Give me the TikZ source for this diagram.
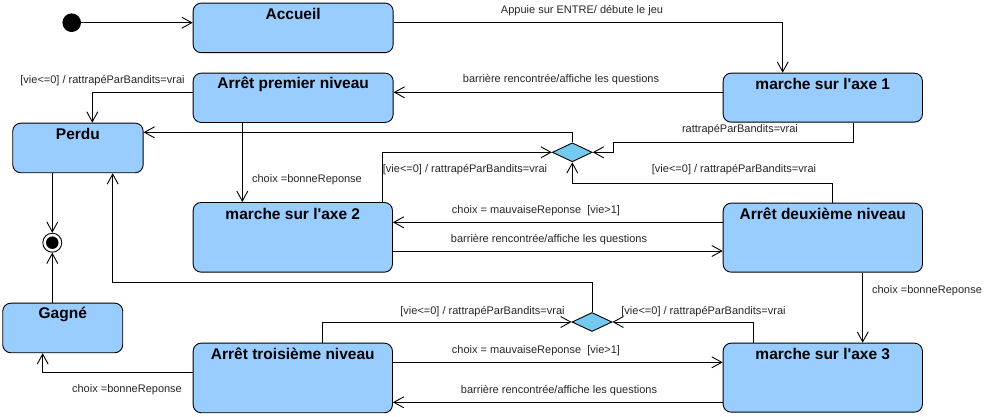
\documentclass[tikz,border=0pt]{standalone}
\usepackage{fontspec}
\setmainfont{Liberation Sans}
\newfontfamily\lsans{Liberation Sans}
\usetikzlibrary{arrows.meta,shapes.geometric}
\definecolor{statefill}{HTML}{99CCFF}
\definecolor{decfill}{HTML}{73C9F0}
\begin{document}
\begin{tikzpicture}[x=1pt,y=-1pt,
  statebox/.style={draw=black, line width=0.9pt, fill=statefill, rounded corners=8pt, anchor=north west, inner sep=0pt},
  ttl/.style={font=\lsans\fontsize{15.5}{18}\selectfont\bfseries, inner sep=0pt},
  lbl/.style={font=\lsans\fontsize{11}{13}\selectfont, inner sep=0pt, text=black!85},
  dec/.style={diamond, draw=black, line width=0.9pt, fill=decfill, minimum width=40pt, minimum height=19pt, inner sep=0pt},
  conn/.style={draw=black, line width=0.9pt},
  arr/.style={conn, -{Straight Barb[length=10pt,width=11pt]}},
]
\useasboundingbox (0,0) rectangle (996,416);

% states
\node[statebox, minimum width=200pt, minimum height=49.5pt] (acc) at (192.7,2.7) {};
\node[ttl] (acct) at ([yshift=-11.5pt]acc.north) {Accueil};
\node[statebox, minimum width=199.3pt, minimum height=49pt] (m1) at (722.7,72.7) {};
\node[ttl] (m1t) at ([yshift=-11pt]m1.north) {marche sur l\textquotesingle axe 1};
\node[statebox, minimum width=200pt, minimum height=49.3pt] (ap1) at (192.7,72.7) {};
\node[ttl] (ap1t) at ([yshift=-11.5pt]ap1.north) {Arrêt premier niveau};
\node[statebox, minimum width=130.4pt, minimum height=49.6pt] (perdu) at (12.3,122.7) {};
\node[ttl] (perdut) at ([yshift=-11.5pt]perdu.north) {Perdu};
\node[statebox, minimum width=120pt, minimum height=49.6pt] (gagne) at (2.3,302.7) {};
\node[ttl] (gagnet) at ([yshift=-11.5pt]gagne.north) {Gagné};
\node[statebox, minimum width=199.3pt, minimum height=69.7pt] (m2) at (192.7,202) {};
\node[ttl] (m2t) at ([yshift=-11.5pt]m2.north) {marche sur l\textquotesingle axe 2};
\node[statebox, minimum width=199.3pt, minimum height=69pt] (ad2) at (722.7,202.7) {};
\node[ttl] (ad2t) at ([yshift=-11.5pt]ad2.north) {Arrêt deuxième niveau};
\node[statebox, minimum width=199.3pt, minimum height=69.6pt] (at3) at (192.7,342.7) {};
\node[ttl] (at3t) at ([yshift=-11.5pt]at3.north) {Arrêt troisième niveau};
\node[statebox, minimum width=199.3pt, minimum height=69pt] (m3) at (722.7,342.7) {};
\node[ttl] (m3t) at ([yshift=-11.5pt]m3.north) {marche sur l\textquotesingle axe 3};

% pseudo states
\node[circle, fill=black, minimum size=18.6pt, inner sep=0pt] (init) at (71.7,22.7) {};
\node[circle, draw=black, line width=0.9pt, fill=white, minimum size=19pt, inner sep=0pt] (fin) at (52.3,242.7) {};
\node[circle, fill=black, minimum size=12.5pt, inner sep=0pt] (fincore) at (fin) {};

% decisions
\node[dec] (d1) at (572.3,152.3) {};
\node[dec] (d2) at (592,322) {};

% connectors
\draw[arr] (init.east) -- (init -| acc.west);
\draw[arr] (acc.east |- init) -| (782.7,0 |- m1.north);
\node[lbl] (l2) at (582,11) {Appuie sur ENTRE/ débute le jeu};

\draw[arr] (m1.west |- 0,92.3) -- (ap1.east |- 0,92.3);
\node[lbl] (l3) at (561,80) {barrière rencontrée/affiche les questions};

\draw[arr] (ap1.west |- 0,92.3) -| (92.3,0 |- perdu.north);
\node[lbl] (l4) at (102.5,81) {[vie<=0] / rattrapéParBandits=vrai};

\draw[arr] (242.3,0 |- ap1.south) -- (242.3,0 |- m2.north);
\node[lbl] (l5) at (307,180) {choix =bonneReponse};

\draw[arr] (853,0 |- m1.south) |- (613,142.3) |- (d1.east);
\node[lbl] (l6) at (740,130) {rattrapéParBandits=vrai};

\draw[arr] (382.7,0 |- m2.north) |- (d1.west);
\node[lbl] (l7) at (465,170) {[vie<=0] / rattrapéParBandits=vrai};

\draw[arr] (832.3,0 |- ad2.north) |- (d1.south |- 0,183) -- (d1.south);
\node[lbl] (l8) at (734,170) {[vie<=0] / rattrapéParBandits=vrai};

\draw[arr] (d1.north) |- (perdu.east |- 0,132.3);

\draw[arr] (ad2.west |- 0,222.3) -- (m2.east |- 0,222.3);
\node[lbl] (l10) at (536,210.7) {choix = mauvaiseReponse\ \ [vie>1]};

\draw[arr] (m2.east |- 0,251) -- (ad2.west |- 0,251);
\node[lbl] (l11) at (549,239.3) {barrière rencontrée/affiche les questions};

\draw[arr] (862.7,0 |- ad2.south) -- (862.7,0 |- m3.north);
\node[lbl] (l12) at (927,290.7) {choix =bonneReponse};

\draw[arr] (322.3,0 |- at3.north) |- (d2.west);
\node[lbl] (l13) at (482.5,312) {[vie<=0] / rattrapéParBandits=vrai};

\draw[arr] (753.3,0 |- m3.north) |- (d2.east);
\node[lbl] (l14) at (703.5,312) {[vie<=0] / rattrapéParBandits=vrai};

\draw[arr] (d2.north) |- (112.7,282.3) -- (112.7,0 |- perdu.south);

\draw[arr] (at3.east |- 0,362.3) -- (m3.west |- 0,362.3);
\node[lbl] (l16) at (536,351) {choix = mauvaiseReponse\ \ [vie>1]};

\draw[arr] (m3.west |- 0,402.3) -- (at3.east |- 0,402.3);
\node[lbl] (l17) at (559,390.5) {barrière rencontrée/affiche les questions};

\draw[arr] (at3.west |- 0,372.3) -| (42.7,0 |- gagne.south);
\node[lbl] (l18) at (127,390) {choix =bonneReponse};

\draw[arr] (52.3,0 |- perdu.south) -- (fin.north);
\draw[arr] (52.3,0 |- gagne.north) -- (fin.south);
\end{tikzpicture}
\end{document}
